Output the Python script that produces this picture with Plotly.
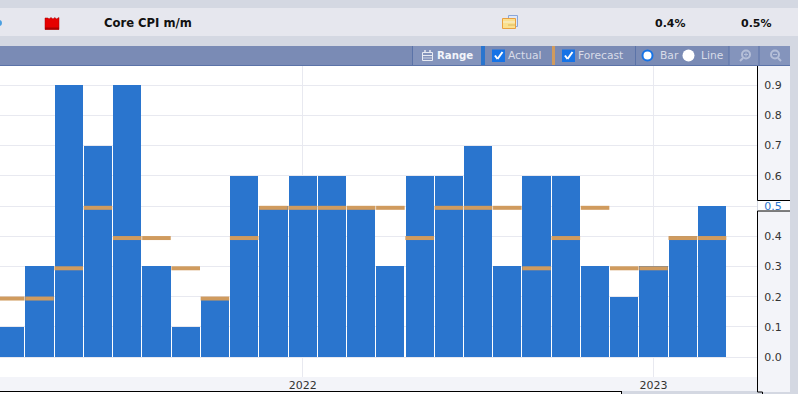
import plotly.graph_objects as go

# Monthly series, Mar 2021 .. Mar 2023
months = ["2021-03", "2021-04", "2021-05", "2021-06", "2021-07", "2021-08", "2021-09", "2021-10",
          "2021-11", "2021-12", "2022-01", "2022-02", "2022-03", "2022-04", "2022-05", "2022-06",
          "2022-07", "2022-08", "2022-09", "2022-10", "2022-11", "2022-12", "2023-01", "2023-02", "2023-03"]
actual = [0.1, 0.3, 0.9, 0.7, 0.9, 0.3, 0.1, 0.2, 0.6, 0.5, 0.6, 0.6, 0.5,
          0.3, 0.6, 0.6, 0.7, 0.3, 0.6, 0.6, 0.3, 0.2, 0.3, 0.4, 0.5]
forecast = [0.2, 0.2, 0.3, 0.5, 0.4, 0.4, 0.3, 0.2, 0.4, 0.5, 0.5, 0.5, 0.5,
            0.5, 0.4, 0.5, 0.5, 0.5, 0.3, 0.4, 0.5, 0.3, 0.3, 0.4, 0.4]
y_ticks = [0.0, 0.1, 0.2, 0.3, 0.4, 0.5, 0.6, 0.7, 0.8, 0.9]
x_tick_months = ["2022-01", "2023-01"]
x_tick_labels = ["2022", "2023"]
title = "Core CPI m/m"
forecast_text = "0.4%"
actual_text = "0.5%"

W, H = 798, 394
BG, ROW, BAR_TB, CELL = "#d4d8e2", "#e6e7ee", "#7a8bb5", "#8494bc"
BLUE, ORANGE, PANEL = "#2a75ce", "#d09b5e", "#f3f4f9"
LIGHT = "#d8dce8"
FONT = "DejaVu Sans"


def px(x):
    return x / W


def py(y):
    return 1 - y / H


shapes, notes = [], []


def rect(x0, y0, x1, y1, fill, layer="below"):
    shapes.append(dict(type="rect", xref="paper", yref="paper", x0=px(x0), x1=px(x1), y0=py(y0), y1=py(y1),
                       fillcolor=fill, line_width=0, layer=layer))


def line(x0, y0, x1, y1, color="#000000", width=1, layer="above"):
    shapes.append(dict(type="line", xref="paper", yref="paper", x0=px(x0), x1=px(x1), y0=py(y0), y1=py(y1),
                       line=dict(color=color, width=width), layer=layer))


def circle(cx, cy, r, fill, stroke=None, width=0):
    shapes.append(dict(type="circle", xref="paper", yref="paper", x0=px(cx - r), x1=px(cx + r), y0=py(cy - r),
                       y1=py(cy + r), fillcolor=fill, line=dict(color=stroke or fill, width=width), layer="above"))


def text(x, y, s, color="#111111", bold=False, size=11):
    notes.append(dict(xref="paper", yref="paper", x=px(x), y=py(y), text=f"<b>{s}</b>" if bold else s, showarrow=False,
                      xanchor="left", yanchor="middle", borderpad=0,
                      font=dict(family=FONT, size=size, color=color)))


# Bands
rect(0, 8, W, 36, ROW)
rect(0, 46, 790, 65, BAR_TB)
rect(0, 65, 790, 66, "#5b73a8")
rect(758, 66, 790, 392, PANEL)
rect(0, 377, 757, 391, PANEL)
rect(0, 391.5, 622, H, "#ffffff")
rect(758, 200, 790, 211, "#ffffff")

# Row contents
circle(-1, 23, 3, "#4a9fe0")
shapes.append(dict(type="path", xref="paper", yref="paper",
                   path="M %f,%f L %f,%f L %f,%f L %f,%f L %f,%f L %f,%f L %f,%f L %f,%f L %f,%f L %f,%f Z" % (
                       px(45), py(29.5), px(45), py(18), px(48), py(18), px(49), py(19), px(51), py(17.5),
                       px(53), py(19), px(55), py(17.5), px(56.5), py(19), px(59), py(17.5), px(59), py(29.5)),
                   fillcolor="#e60000", line=dict(color="#a80000", width=0.5), layer="above"))
rect(45, 27.5, 59, 29.5, "#a80000", layer="above")
text(102.5, 23, title, bold=True, size=11.6)
text(653.5, 23, forecast_text, bold=True)
text(739.5, 23, actual_text, bold=True)

# Folder icon
shapes.append(dict(type="rect", xref="paper", yref="paper", x0=px(508.5), x1=px(517.5), y0=py(15.5), y1=py(26.5),
                   fillcolor="#dfe8f8", line=dict(color="#8aa6d8", width=1), layer="above"))
shapes.append(dict(type="rect", xref="paper", yref="paper", x0=px(502.5), x1=px(515.5), y0=py(18.5), y1=py(28.5),
                   fillcolor="#fbe08e", line=dict(color="#e8a040", width=1), layer="above"))
line(503, 22, 515, 22, "#f5f0d8", 1)
line(508, 25, 515, 25, "#d9b860", 1)

# Toolbar cells
rect(413, 46, 481, 65, CELL)
line(412.5, 46, 412.5, 65, "#5b73a8")
rect(481, 46, 485, 65, BLUE)
rect(552, 46, 555, 65, ORANGE)
line(635.5, 46, 635.5, 65, "#5b73a8")
rect(729, 46, 759, 65, CELL)
rect(759, 46, 790, 65, CELL)
line(729, 46, 729, 65, "#5b73a8")
line(759, 46, 759, 65, "#5b73a8")

# Calendar icon (outlined)
shapes.append(dict(type="rect", xref="paper", yref="paper", x0=px(422.5), x1=px(432.5), y0=py(52.5), y1=py(60.5),
                   fillcolor="rgba(0,0,0,0)", line=dict(color="#e8ebf3", width=1), layer="above"))
line(423, 55.5, 432, 55.5, "#e8ebf3", 1)
line(423, 58, 432, 58, "#c5cce0", 1)
line(425, 50, 425, 53, "#e8ebf3", 1.5)
line(430, 50, 430, 53, "#e8ebf3", 1.5)
text(436.5, 56, "Range", "#f2f4fa", bold=True, size=10.2)

# Checkboxes
for cx, label, lx in [(498.5, "Actual", 506.5), (568.5, "Forecast", 577)]:
    rect(cx - 6.5, 49.5, cx + 6.5, 62, "#1673e6", layer="above")
    line(cx - 3.5, 55.5, cx - 1, 59, "#ffffff", 2)
    line(cx - 1, 59, cx + 4, 52, "#ffffff", 2)
    text(lx, 56, label, LIGHT, size=10.7)

# Radios
circle(647.5, 55.5, 5, "#ffffff", "#1673e6", 2)
text(658.5, 56, "Bar", LIGHT, size=10.7)
circle(688.5, 55.5, 6, "#ffffff")
text(699.5, 56, "Line", LIGHT, size=10.7)

# Magnifiers
for cx, plus in [(746, True), (775, False)]:
    circle(cx, 54.5, 4, "rgba(0,0,0,0)", "#b5bfd8", 2)
    if plus:
        line(cx - 3, 58, cx - 6, 61, "#b5bfd8", 2)
        line(cx, 52.5, cx, 56.5, "#b5bfd8", 1)
    else:
        line(cx + 3, 58, cx + 6, 61, "#b5bfd8", 2)
    line(cx - 2, 54.5, cx + 2, 54.5, "#b5bfd8", 1)

# Black frame round the value panel and the highlighted label
line(757.5, 66, 757.5, 200.5)
line(757.5, 200.5, 790, 200.5)
line(757.5, 211, 790, 211)
line(757.5, 211, 757.5, 392)
line(757.5, 392, 762.5, 392)
line(762.5, 392, 762.5, H)
line(0, 391.5, 622, 391.5)
line(621.5, 391.5, 621.5, H)

fig = go.Figure()
fig.add_trace(go.Bar(x=months, y=actual, name="Actual", width=0.965,
                     marker=dict(color=BLUE, line_width=0)))
fig.add_trace(go.Scatter(x=months, y=[v - 0.006 for v in forecast], name="Forecast", mode="markers",
                         marker=dict(symbol="line-ew", size=20.4, line=dict(color=ORANGE, width=4)), cliponaxis=True))

unit = 29.24
zero_y = 357.2
fig.update_layout(
    width=W, height=H, margin=dict(l=0, r=0, t=0, b=0), paper_bgcolor=BG, plot_bgcolor="#ffffff",
    showlegend=False, shapes=shapes, annotations=notes, bargap=0,
    xaxis=dict(domain=[0, 757 / W], type="category", categoryorder="array", categoryarray=months,
               range=[-10.26 / unit, (757 - 10.26) / unit],
               tickmode="array", tickvals=x_tick_months, ticktext=x_tick_labels,
               ticks="", showgrid=True, gridcolor="#e8e9f0", gridwidth=1, zeroline=False,
               tickfont=dict(family=FONT, size=11, color="#333333"), showline=False, fixedrange=True),
    yaxis=dict(domain=[py(377), py(66)], side="right", anchor="x",
               range=[-(377 - zero_y) / 302.4, (zero_y - 66) / 302.4],
               tickmode="array", tickvals=y_ticks,
               ticktext=[f"<span style='color:{BLUE}'>{v:.1f}</span>" if v == actual[-1] else f"{v:.1f}" for v in y_ticks],
               ticks="outside", ticklen=4, tickcolor="rgba(0,0,0,0)", showgrid=True, gridcolor="#e8e9f0", gridwidth=1,
               zeroline=False, tickfont=dict(family=FONT, size=11, color="#333333"), showline=False, fixedrange=True),
)
fig.write_html("out.html", config=dict(displayModeBar=False),
               post_script="document.body.style.margin='0';document.documentElement.style.overflow='hidden';")
